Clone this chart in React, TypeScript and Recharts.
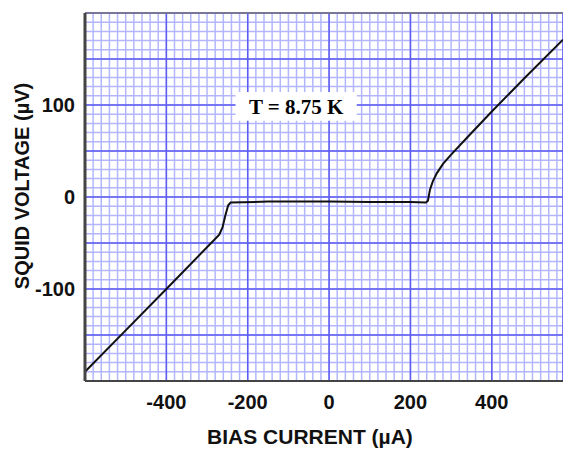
import { LineChart, Line, XAxis, YAxis, CartesianGrid, ReferenceArea, ReferenceLine } from 'recharts';

// bias current (µA) and SQUID voltage (µV)
const CURRENT = [-600, -500, -400, -270, -262, -255, -248, -242, -150, -50, 0, 100, 200, 238, 243, 248, 255, 265, 280, 300, 340, 400, 480, 575];
const VOLTAGE = [-190, -145, -100, -41, -33, -20, -9, -6, -5, -5, -5, -5.5, -5.5, -6, -4, 8, 17, 26, 36, 46, 65, 93, 129, 171];

const X_TICKS = [-400, -200, 0, 200, 400];
const Y_TICKS = [-100, 0, 100];
const X_DOMAIN: [number, number] = [-600, 575];
const Y_DOMAIN: [number, number] = [-200, 200];

// graph-paper rulings
const X_MAJOR = [-600, -400, -200, 0, 200, 400];
const Y_MAJOR = [-200, -150, -100, -50, 0, 50, 100, 150, 200];
const X_MINOR = Array.from({ length: 59 }, (_, i) => -600 + i * 20);
const Y_MINOR = Array.from({ length: 41 }, (_, i) => -200 + i * 10);

const data = CURRENT.map((c, i) => ({ current: c, voltage: VOLTAGE[i] }));

const FONT = '"Liberation Sans", Arial, sans-serif';
const tickStyle = { fill: '#111', fontSize: 20, fontWeight: 700, fontFamily: FONT };

export default function App() {
  return (
    <div style={{ position: 'absolute', left: 0, top: 0, width: 563, height: 451, background: '#fff' }}>
      <LineChart width={563} height={451} data={data} margin={{ top: 13, right: 0, bottom: 0, left: 0 }}>
        <XAxis xAxisId="minor" type="number" dataKey="current" domain={X_DOMAIN} ticks={X_MINOR} interval={0} hide allowDataOverflow />
        <YAxis yAxisId="minor" type="number" domain={Y_DOMAIN} ticks={Y_MINOR} interval={0} hide allowDataOverflow />
        <XAxis xAxisId="major" type="number" dataKey="current" domain={X_DOMAIN} ticks={X_MAJOR} interval={0} hide allowDataOverflow />
        <YAxis yAxisId="major" type="number" domain={Y_DOMAIN} ticks={Y_MAJOR} interval={0} hide allowDataOverflow />
        <CartesianGrid xAxisId="minor" yAxisId="minor" stroke="#b3b6ff" strokeWidth={1.5} />
        <CartesianGrid xAxisId="major" yAxisId="major" stroke="#5c5cf2" strokeWidth={1.5} />

        <XAxis
          xAxisId="main"
          type="number"
          dataKey="current"
          domain={X_DOMAIN}
          ticks={X_TICKS}
          interval={0}
          allowDataOverflow
          height={70}
          tickSize={0}
          tickMargin={14}
          tick={tickStyle}
          axisLine={{ stroke: '#444', strokeWidth: 2 }}
          label={{
            content: ({ viewBox }: any) => (
              <text x={viewBox.x + viewBox.width / 2 - 14} y={viewBox.y + 63} textAnchor="middle"
                fill="#111" fontSize={21} fontWeight={700} fontFamily={FONT}>
                BIAS CURRENT (µA)
              </text>
            ),
          }}
        />
        <YAxis
          yAxisId="main"
          type="number"
          domain={Y_DOMAIN}
          ticks={Y_TICKS}
          interval={0}
          allowDataOverflow
          width={85}
          tickSize={0}
          tickMargin={10}
          tick={tickStyle}
          axisLine={{ stroke: '#444', strokeWidth: 3 }}
          label={{
            content: ({ viewBox }: any) => {
              const cx = viewBox.x + 22;
              const cy = viewBox.y + viewBox.height / 2 - 11;
              return (
                <text x={cx} y={cy} textAnchor="middle" dominantBaseline="central"
                  transform={`rotate(-90, ${cx}, ${cy})`}
                  fill="#111" fontSize={20} fontWeight={700} fontFamily={FONT}>
                  SQUID VOLTAGE (µV)
                </text>
              );
            },
          }}
        />

        <ReferenceLine xAxisId="main" yAxisId="main" y={200} stroke="#777" strokeWidth={1.5} />
        <ReferenceArea
          xAxisId="main"
          yAxisId="main"
          x1={-230}
          x2={68}
          y1={83}
          y2={114}
          fill="#fff"
          fillOpacity={1}
          stroke="none"
          label={{
            value: 'T = 8.75 K',
            position: 'center',
            fill: '#000',
            fontSize: 21,
            fontWeight: 700,
            fontFamily: '"Liberation Serif", "Times New Roman", serif',
          }}
        />

        <Line
          xAxisId="main"
          yAxisId="main"
          type="linear"
          dataKey="voltage"
          stroke="#111"
          strokeWidth={2}
          dot={false}
          isAnimationActive={false}
        />
      </LineChart>
    </div>
  );
}
